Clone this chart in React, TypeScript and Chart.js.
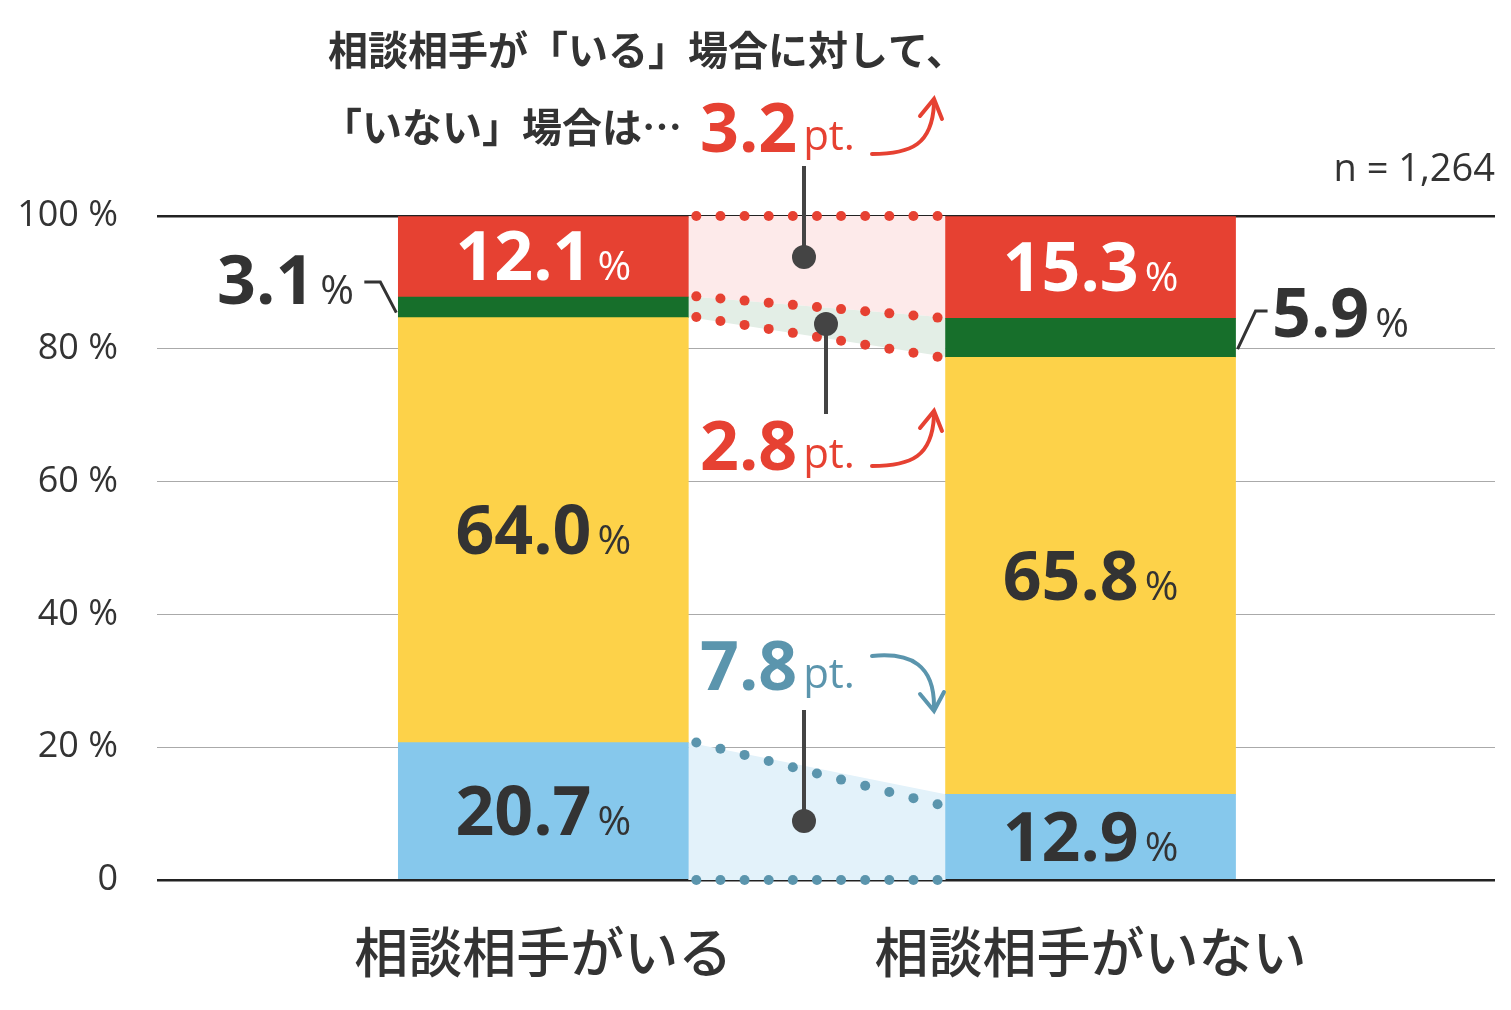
import React, { useEffect, useRef } from "react";
import { Chart, registerables } from "chart.js";
Chart.register(...registerables);

const categories = ["相談相手がいる", "相談相手がいない"];
const xPos = [26.76, 71.75];
const blue = [20.7, 12.9];
const yellow = [64.0, 65.8];
const green = [3.1, 5.9];
const red = [12.1, 15.3];
const yTicks = [0, 20, 40, 60, 80, 100];
const diffs = ["3.2", "2.8", "7.8"];

const NUM = "'Open Sans', 'Noto Sans', sans-serif";
const JP = "'Noto Sans CJK JP', sans-serif";
const DARK = "#333333";
const RED = "#e64132";
const BLUEC = "#5b95ad";

function numPct(ctx: CanvasRenderingContext2D, x: number, y: number, num: string, color: string, size = 68, align = "center") {
  ctx.save();
  ctx.fillStyle = color;
  ctx.textBaseline = "alphabetic";
  ctx.font = `bold ${size}px ${NUM}`;
  const w1 = ctx.measureText(num).width;
  ctx.font = `${size * 0.6}px ${NUM}`;
  const w2 = ctx.measureText("%").width;
  const gap = 6;
  const tot = w1 + gap + w2;
  let sx = align === "center" ? x - tot / 2 : align === "right" ? x - tot : x;
  ctx.textAlign = "left";
  ctx.font = `bold ${size}px ${NUM}`;
  ctx.fillText(num, sx, y);
  ctx.font = `${size * 0.6}px ${NUM}`;
  ctx.fillText("%", sx + w1 + gap, y);
  ctx.restore();
  return tot;
}

function arrowUp(ctx: CanvasRenderingContext2D, x: number, y: number, color: string) {
  ctx.save();
  ctx.strokeStyle = color; ctx.lineWidth = 4; ctx.lineCap = "round";
  ctx.beginPath();
  ctx.moveTo(x, y);
  ctx.bezierCurveTo(x + 40, y, x + 60, y - 10, x + 62, y - 50);
  ctx.stroke();
  ctx.beginPath();
  ctx.moveTo(x + 48, y - 38); ctx.lineTo(x + 62, y - 55); ctx.lineTo(x + 70, y - 35);
  ctx.stroke();
  ctx.restore();
}
function arrowDown(ctx: CanvasRenderingContext2D, x: number, y: number, color: string) {
  ctx.save();
  ctx.strokeStyle = color; ctx.lineWidth = 4; ctx.lineCap = "round";
  ctx.beginPath();
  ctx.moveTo(x, y);
  ctx.bezierCurveTo(x + 40, y - 4, x + 62, y + 10, x + 62, y + 50);
  ctx.stroke();
  ctx.beginPath();
  ctx.moveTo(x + 48, y + 38); ctx.lineTo(x + 62, y + 55); ctx.lineTo(x + 72, y + 36);
  ctx.stroke();
  ctx.restore();
}

const overlay = {
  id: "overlay",
  beforeDatasetsDraw(chart: any) {
    const ctx = chart.ctx as CanvasRenderingContext2D;
    const { y } = chart.scales;
    const meta = chart.getDatasetMeta(0);
    const b0 = meta.data[0], b1 = meta.data[1];
    const xa = b0.x + b0.width / 2;
    const xb = b1.x - b1.width / 2;
    const band = (t1: number, t2: number, bt1: number, bt2: number, fill: string) => {
      ctx.fillStyle = fill;
      ctx.beginPath();
      ctx.moveTo(xa, y.getPixelForValue(t1)); ctx.lineTo(xb, y.getPixelForValue(t2));
      ctx.lineTo(xb, y.getPixelForValue(bt2)); ctx.lineTo(xa, y.getPixelForValue(bt1));
      ctx.closePath(); ctx.fill();
    };
    const r1 = 100 - red[0], r2 = 100 - red[1];
    const g1 = r1 - green[0], g2 = r2 - green[1];
    band(100, 100, r1, r2, "#fdeaea");
    band(r1, r2, g1, g2, "#e3eee6");
    band(blue[0], blue[1], 0, 0, "#e3f2fa");
    const dots = (v1: number, v2: number, color: string) => {
      const n = 11;
      ctx.fillStyle = color;
      for (let i = 0; i < n; i++) {
        const t = i / (n - 1);
        const px = xa + 8 + (xb - xa - 16) * t;
        const py = y.getPixelForValue(v1 + (v2 - v1) * t);
        ctx.beginPath(); ctx.arc(px, py, 5, 0, Math.PI * 2); ctx.fill();
      }
    };
    dots(100, 100, RED);
    dots(r1, r2, RED);
    dots(g1, g2, RED);
    dots(blue[0], blue[1] - 1.5, BLUEC);
    dots(0, 0, BLUEC);
  },
  afterDraw(chart: any) {
    const ctx = chart.ctx as CanvasRenderingContext2D;
    const { y } = chart.scales;
    const area = chart.chartArea;
    const meta = chart.getDatasetMeta(0);
    const bars = meta.data;
    ctx.save();
    ctx.fillStyle = DARK; ctx.textAlign = "right"; ctx.textBaseline = "middle";
    ctx.font = `36px ${NUM}`;
    yTicks.forEach((t) => ctx.fillText(t === 0 ? "0" : `${t} %`, 118, y.getPixelForValue(t)));
    ctx.textAlign = "center"; ctx.textBaseline = "middle";
    ctx.font = `500 54px ${JP}`;
    categories.forEach((c, i) => ctx.fillText(c, bars[i].x, 952));
    ctx.textAlign = "right"; ctx.font = `38px ${NUM}`;
    ctx.fillText("n = 1,264", area.right, 170);
    ctx.textAlign = "left"; ctx.font = `bold 40px ${JP}`;
    ctx.fillText("相談相手が「いる」場合に対して、", 328, 50);
    ctx.fillText("「いない」場合は…", 322, 127);
    ctx.restore();

    for (let i = 0; i < 2; i++) {
      const cx = bars[i].x;
      const b = blue[i], yl = yellow[i], r = red[i];
      numPct(ctx, cx, y.getPixelForValue(b / 2) + 24, b.toFixed(1), DARK);
      numPct(ctx, cx, y.getPixelForValue(b + yl / 2) + 24, yl.toFixed(1), DARK);
      numPct(ctx, cx, y.getPixelForValue(100 - r / 2) + 24, r.toFixed(1), "#ffffff");
    }
    const la = bars[0].x - bars[0].width / 2;
    const rb = bars[1].x + bars[1].width / 2;
    const gy1 = y.getPixelForValue(100 - red[0] - green[0] / 2);
    const gy2 = y.getPixelForValue(100 - red[1] - green[1] / 2);
    ctx.save(); ctx.strokeStyle = DARK; ctx.lineWidth = 3;
    ctx.beginPath(); ctx.moveTo(la - 2, gy1 + 6); ctx.lineTo(la - 18, 282); ctx.lineTo(la - 34, 282); ctx.stroke();
    ctx.beginPath(); ctx.moveTo(rb + 2, gy2 + 12); ctx.lineTo(rb + 20, 311); ctx.lineTo(rb + 32, 311); ctx.stroke();
    ctx.restore();
    numPct(ctx, 354, 304, green[0].toFixed(1), DARK, 68, "right");
    numPct(ctx, 1272, 337, green[1].toFixed(1), DARK, 68, "left");

    const dl = (txt: string, yy: number, col: string) => {
      ctx.save(); ctx.fillStyle = col; ctx.textAlign = "left"; ctx.textBaseline = "alphabetic";
      ctx.font = `bold 68px ${NUM}`;
      const w = ctx.measureText(txt).width;
      ctx.fillText(txt, 700, yy);
      ctx.font = `42px ${NUM}`;
      ctx.fillText("pt.", 700 + w + 6, yy - 2);
      ctx.restore();
    };
    dl(diffs[0], 152, RED); arrowUp(ctx, 872, 154, RED);
    dl(diffs[1], 470, RED); arrowUp(ctx, 872, 466, RED);
    dl(diffs[2], 690, BLUEC); arrowDown(ctx, 872, 656, BLUEC);
    const stick = (x0: number, yTop: number, yBot: number, dotY: number) => {
      ctx.save(); ctx.strokeStyle = "#444"; ctx.fillStyle = "#444"; ctx.lineWidth = 4;
      ctx.beginPath(); ctx.moveTo(x0, yTop); ctx.lineTo(x0, yBot); ctx.stroke();
      ctx.beginPath(); ctx.arc(x0, dotY, 12, 0, Math.PI * 2); ctx.fill();
      ctx.restore();
    };
    stick(804, 166, 257, 257);
    stick(826, 324, 414, 324);
    stick(804, 710, 821, 821);
  },
};

export default function App() {
  const ref = useRef<HTMLCanvasElement>(null);
  useEffect(() => {
    const mk = (vals: number[], color: string) => ({
      data: vals.map((v, i) => ({ x: xPos[i], y: v })),
      backgroundColor: color,
      barThickness: 290,
      stack: "s",
    });
    const chart = new Chart(ref.current!, {
      type: "bar",
      data: {
        datasets: [
          mk(blue, "#86c8ec"),
          mk(yellow, "#fdd249"),
          mk(green, "#176f2b"),
          mk(red, "#e64132"),
        ] as any,
      },
      options: {
        animation: false,
        responsive: false,
        layout: { padding: { left: 157, right: 16, top: 216, bottom: 130 } },
        plugins: { legend: { display: false }, tooltip: { enabled: false } },
        scales: {
          x: { type: "linear", min: 0, max: 100, display: false, stacked: true },
          y: {
            stacked: true, min: 0, max: 100,
            ticks: { display: false, stepSize: 20 },
            border: { display: false },
            grid: {
              drawTicks: false,
              color: (c: any) => (c.tick && (c.tick.value === 0 || c.tick.value === 100) ? "#222" : "#aaa"),
              lineWidth: (c: any) => (c.tick && (c.tick.value === 0 || c.tick.value === 100) ? 2.5 : 1),
            },
          },
        },
      } as any,
      plugins: [overlay],
    });
    return () => chart.destroy();
  }, []);
  return (
    <div style={{ position: "fixed", left: 0, top: 0, width: 1511, height: 1010, background: "#fff" }}>
      <canvas ref={ref} width={1511} height={1010} style={{ width: 1511, height: 1010 }} />
    </div>
  );
}
